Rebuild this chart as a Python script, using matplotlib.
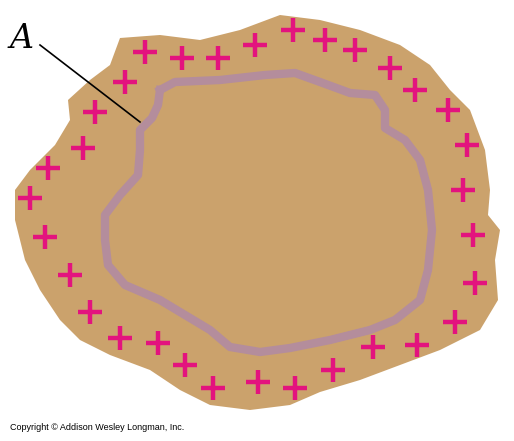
import matplotlib.pyplot as plt
from matplotlib.patches import Polygon

# Outline of the tan body (pixel coords, y down)
body_x = [120, 160, 200, 240, 280, 320, 360, 400, 430, 450, 470, 485, 490, 488, 500,
          495, 498, 480, 440, 400, 360, 320, 290, 250, 210, 180, 150, 110, 80, 60,
          40, 25, 15, 15, 30, 55, 70, 68, 90, 110]
body_y = [38, 35, 40, 30, 15, 20, 30, 45, 65, 90, 110, 150, 190, 215, 230,
          260, 300, 330, 350, 365, 380, 392, 405, 410, 405, 390, 370, 355, 340, 320,
          290, 260, 220, 190, 170, 145, 120, 100, 80, 65]

# Positive charges around the edge
plus_x = [145, 182, 218, 255, 293, 325, 355, 390, 415, 448, 467, 463, 473, 475, 455, 417,
          373, 333, 295, 258, 213, 185, 158, 120, 90, 70, 45, 30, 48, 83, 95, 125]
plus_y = [52, 58, 58, 45, 30, 40, 50, 68, 90, 110, 145, 190, 235, 283, 322, 345,
          347, 370, 388, 382, 388, 365, 343, 338, 312, 275, 237, 198, 168, 148, 112, 82]

# Closed surface A
surf_x = [160, 175, 220, 265, 295, 320, 350, 375, 385, 385, 405, 420, 428, 432, 428, 420,
          395, 370, 330, 290, 260, 230, 210, 185, 160, 125, 108, 105, 105, 120, 138, 140,
          140, 152, 158, 160]
surf_y = [90, 82, 80, 75, 73, 82, 93, 95, 110, 128, 140, 160, 190, 230, 270, 300,
          320, 330, 340, 348, 352, 347, 330, 315, 300, 285, 265, 240, 215, 195, 175, 150,
          130, 118, 105, 90]

fig = plt.figure(figsize=(5.14, 4.41), dpi=100)
ax = fig.add_axes([0, 0, 1, 1])
ax.set_xlim(0, 514)
ax.set_ylim(441, 0)
ax.axis("off")

ax.add_patch(Polygon(list(zip(body_x, body_y)), closed=True, fc="#CBA26C", ec="none"))
ax.plot(surf_x, surf_y, color="#B48D9C", lw=6, solid_joinstyle="round")
ax.plot(plus_x, plus_y, ls="none", marker="+", ms=17, mew=3.2, color="#E3137E")

ax.plot([40, 140], [45, 122], color="black", lw=1.2)
ax.text(10, 48, "A", fontsize=24, family="DejaVu Serif", style="italic")
ax.text(10, 430, "Copyright © Addison Wesley Longman, Inc.", fontsize=6.5,
        family="Liberation Sans")

fig.savefig("out.png", dpi=100)
